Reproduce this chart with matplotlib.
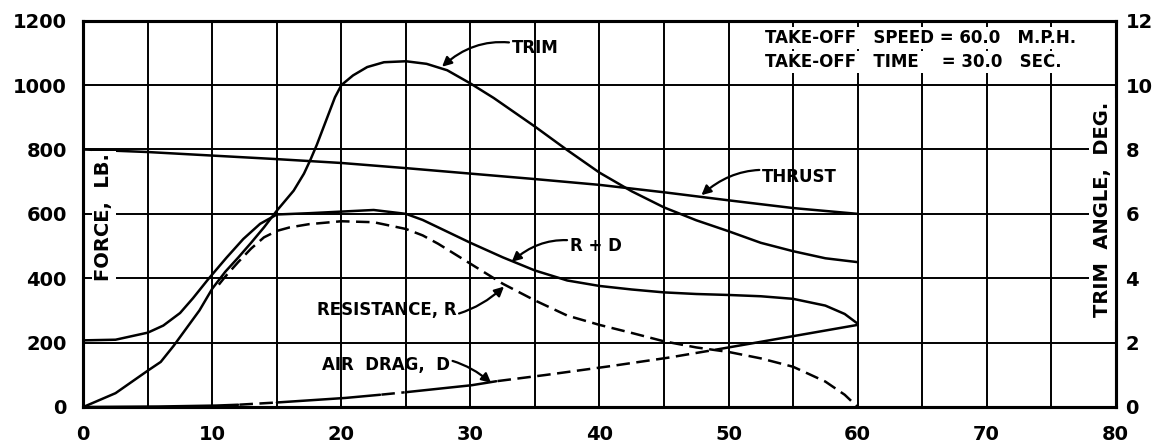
import numpy as np
import matplotlib
matplotlib.use('Agg')
from matplotlib import pyplot as plt

# speed, m.p.h.
speed_thrust = [0, 5, 10, 15, 20, 25, 30, 35, 40, 45, 50, 55, 60]
thrust = [800, 792, 781, 770, 758, 742, 725, 708, 690, 667, 642, 618, 600]

speed_rd = [0, 2.5, 5, 6.2, 7.5, 8.5, 9.7, 11.1, 12.4, 13.7, 15, 17.5, 20, 22.5, 25, 26.3,
            27.5, 30, 32.5, 35, 37.5, 40, 42.5, 45, 47.5, 50, 52.5, 55, 57.5, 59, 60]
r_plus_d = [207, 209, 231, 253, 292, 338, 398, 464, 522, 569, 598, 602, 607, 612, 600, 581,
            558, 510, 465, 424, 393, 376, 365, 356, 351, 348, 344, 336, 315, 289, 259]

speed_r = [10.5, 11, 12, 13, 14, 15, 16, 17.5, 20, 22.5, 25, 26.3, 27.5, 30, 32.5, 35,
           37.5, 40, 42.5, 45, 47.5, 50, 52.5, 55, 57.5, 59, 60]
resistance = [380, 405, 450, 492, 527, 547, 558, 568, 577, 574, 553, 533, 507, 445, 383, 331,
              284, 255, 230, 204, 185, 171, 151, 125, 79, 38, 0]

speed_d = [0, 5, 10, 12, 15, 20, 23, 25, 30, 32, 35, 40, 45, 49, 50, 55, 60]
air_drag = [0, 1, 4, 7, 14, 27, 38, 46, 67, 80, 95, 122, 151, 178, 185, 220, 255]

# trim angle, deg.
speed_trim = [0, 2.5, 5, 6, 7, 8, 9, 10, 11, 12, 13, 14, 15, 16.3, 17.1, 17.6, 18.1, 18.9,
              19.5, 20, 20.9, 22, 23.3, 25, 26.6, 28.2, 30, 31.8, 35, 37.5, 40, 42.5, 45,
              47.5, 50, 52.5, 55, 57.5, 60]
trim = [0, 0.43, 1.13, 1.4, 1.9, 2.45, 3.0, 3.68, 4.2, 4.64, 5.1, 5.58, 6.1, 6.72, 7.25, 7.68,
        8.15, 8.99, 9.62, 10.0, 10.3, 10.56, 10.71, 10.74, 10.66, 10.46, 10.05, 9.6, 8.71,
        7.98, 7.28, 6.7, 6.2, 5.8, 5.46, 5.1, 4.84, 4.62, 4.5]

# pieces of the air drag line drawn dashed
drag_dashed = [(12, 15), (23, 25), (32, 49)]

INK = 'black'
LW = 1.8
DASH = (0, (5.4, 2.6))
line_kw = dict(color=INK, lw=LW, zorder=4, solid_joinstyle='round', solid_capstyle='round')

fig = plt.figure(figsize=(11.57, 4.47), dpi=100)
ax = fig.add_axes([0.072, 0.0895, 0.8923, 0.8642])

ax.set_xlim(0, 80)
ax.set_ylim(0, 1200)
ax.set_xticks(range(0, 81, 10))
ax.set_yticks(range(0, 1201, 200))
ax.set_xticks(range(0, 81, 5), minor=True)
ax.grid(True, which='both', color=INK, lw=1.4)
ax.set_axisbelow(True)
for s in ax.spines.values():
    s.set_linewidth(2.2)
ax.tick_params(length=0, which='both')
ax.tick_params(axis='x', pad=13)
ax.tick_params(axis='y', pad=12)
for lab in ax.get_xticklabels() + ax.get_yticklabels():
    lab.set_fontsize(14)
    lab.set_fontweight('bold')

ax.plot(speed_thrust, thrust, **line_kw)
ax.plot(speed_rd, r_plus_d, **line_kw)
ax.plot(speed_r, resistance, color=INK, lw=LW, ls=DASH, zorder=4)

# air drag: solid with some dashed stretches
fine_x = np.linspace(0, 60, 601)
fine_y = np.interp(fine_x, speed_d, air_drag)
is_dash = np.zeros_like(fine_x, dtype=bool)
for a, b in drag_dashed:
    is_dash |= (fine_x > a) & (fine_x < b)
ax.plot(fine_x, np.where(is_dash, np.nan, fine_y), **line_kw)
ax.plot(fine_x, np.where(is_dash, fine_y, np.nan), color=INK, lw=LW, ls=DASH, zorder=4)

ax2 = ax.twinx()
ax2.set_ylim(0, 12)
ax2.set_yticks(range(0, 13, 2))
ax2.tick_params(length=0, pad=7)
for lab in ax2.get_yticklabels():
    lab.set_fontsize(14)
    lab.set_fontweight('bold')
for s in ax2.spines.values():
    s.set_linewidth(2.2)
ax2.plot(speed_trim, trim, **line_kw)

lbl = dict(fontsize=12, fontweight='bold', color=INK)
box = dict(facecolor='white', edgecolor='none', pad=1.5)
arrow = dict(arrowstyle='-|>', color=INK, lw=1.6, mutation_scale=14, shrinkA=0, shrinkB=0)

ax.text(1.6, 590, 'FORCE,  LB.', rotation=90, ha='center', va='center',
        fontsize=14, fontweight='bold', bbox=box, zorder=5)
ax.text(79.0, 613, 'TRIM  ANGLE,  DEG.', rotation=90, ha='center', va='center',
        fontsize=14, fontweight='bold', bbox=dict(facecolor='white', edgecolor='none', pad=3), zorder=5)

ax.text(52.8, 1145, 'TAKE-OFF   SPEED = 60.0   M.P.H.', ha='left', va='center',
        bbox=box, zorder=5, **lbl)
ax.text(52.8, 1073, 'TAKE-OFF   TIME    = 30.0   SEC.', ha='left', va='center',
        bbox=box, zorder=5, **lbl)

ax.annotate('TRIM', xy=(27.8, 1057), xytext=(33.2, 1114), ha='left', va='center',
            arrowprops=dict(connectionstyle='arc3,rad=0.3', **arrow), zorder=5, **lbl)
ax.annotate('THRUST', xy=(47.9, 658), xytext=(52.6, 715), ha='left', va='center',
            arrowprops=dict(connectionstyle='arc3,rad=0.3', **arrow), zorder=5, **lbl)
ax.annotate('R + D', xy=(33.2, 451), xytext=(37.7, 500), ha='left', va='center',
            arrowprops=dict(connectionstyle='arc3,rad=0.3', **arrow), zorder=5, **lbl)
ax.annotate('RESISTANCE, R', xy=(32.6, 374), xytext=(28.9, 300), ha='right', va='center',
            arrowprops=dict(connectionstyle='arc3,rad=0.3', **arrow), zorder=5, **lbl)
ax.annotate('AIR  DRAG,  D', xy=(31.6, 75), xytext=(28.4, 130), ha='right', va='center',
            arrowprops=dict(connectionstyle='arc3,rad=-0.3', **arrow), zorder=5, **lbl)

fig.savefig('out.png', dpi=100, facecolor='white')
